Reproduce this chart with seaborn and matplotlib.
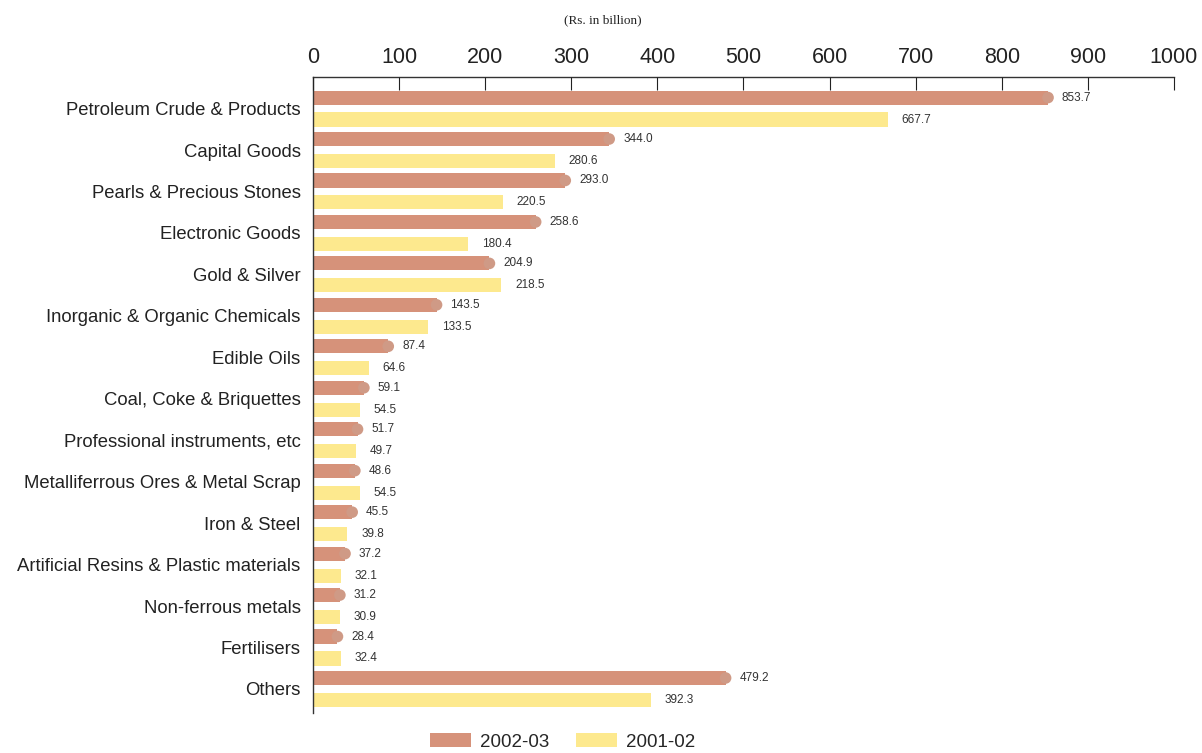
import pandas as pd
import matplotlib
matplotlib.use('Agg')
import matplotlib.pyplot as plt
import seaborn as sns

# Import items, Rs. in billion
items = ['Petroleum Crude & Products', 'Capital Goods', 'Pearls & Precious Stones',
         'Electronic Goods', 'Gold & Silver', 'Inorganic & Organic Chemicals',
         'Edible Oils', 'Coal, Coke & Briquettes', 'Professional instruments, etc',
         'Metalliferrous Ores & Metal Scrap', 'Iron & Steel',
         'Artificial Resins & Plastic materials', 'Non-ferrous metals',
         'Fertilisers', 'Others']
v_2002_03 = [853.7, 344.0, 293.0, 258.6, 204.9, 143.5, 87.4, 59.1, 51.7, 48.6,
             45.5, 37.2, 31.2, 28.4, 479.2]
v_2001_02 = [667.7, 280.6, 220.5, 180.4, 218.5, 133.5, 64.6, 54.5, 49.7, 54.5,
             39.8, 32.1, 30.9, 32.4, 392.3]
years = ['2002-03', '2001-02']
x_ticks = list(range(0, 1001, 100))

df = pd.concat([
    pd.DataFrame({'item': items, 'value': v_2002_03, 'year': years[0]}),
    pd.DataFrame({'item': items, 'value': v_2001_02, 'year': years[1]}),
])

sns.set_style('white')
plt.rcParams['font.family'] = ['Liberation Sans', 'DejaVu Sans']

fig = plt.figure(figsize=(12.02, 7.53), dpi=100)
ax = fig.add_axes([0.2604, 0.0531, 0.7163, 0.8446])

palette = {'2002-03': '#d6927a', '2001-02': '#fde98e'}
sns.barplot(data=df, y='item', x='value', hue='year', orient='h',
            palette=palette, width=1.06, gap=0.36, saturation=1,
            edgecolor='none', ax=ax)

# rounded end cap on the 2002-03 bars
for p in ax.containers[0]:
    ax.scatter(p.get_x() + p.get_width(), p.get_y() + p.get_height() / 2,
               s=70, color='#cf9a86', edgecolor='none', zorder=3)

for cont in ax.containers:
    ax.bar_label(cont, fmt='%.1f', padding=10, fontsize=8.5, color='#333333')

ax.set_axisbelow(False)
ax.set_xlim(0, 1000)
ax.set_ylim(14.58, -0.76)
ax.set_xticks(x_ticks)
ax.xaxis.tick_top()
ax.xaxis.set_label_position('top')
ax.set_xlabel('(Rs. in billion)', family='Liberation Serif', fontsize=9.5,
              labelpad=17, x=0.337, color='#222222')
ax.set_ylabel('')
ax.tick_params(axis='x', top=True, bottom=False, direction='in', length=9,
               width=0.8, labelsize=15.5, pad=6.5, colors='#222222')
ax.tick_params(axis='y', left=False, length=0, labelsize=13.3, pad=9,
               colors='#222222')

for side in ['right', 'bottom']:
    ax.spines[side].set_visible(False)
for side in ['top', 'left']:
    ax.spines[side].set_color('#333333')
    ax.spines[side].set_linewidth(1.0)

handles, labels = ax.get_legend_handles_labels()
ax.get_legend().remove()
fig.legend(handles, labels, loc='center', bbox_to_anchor=(0.468, 0.0146),
           ncol=2, frameon=False, fontsize=13.5, handlelength=2.2,
           handleheight=0.72, handletextpad=0.45, columnspacing=1.45)

fig.savefig('out.png', dpi=100)
